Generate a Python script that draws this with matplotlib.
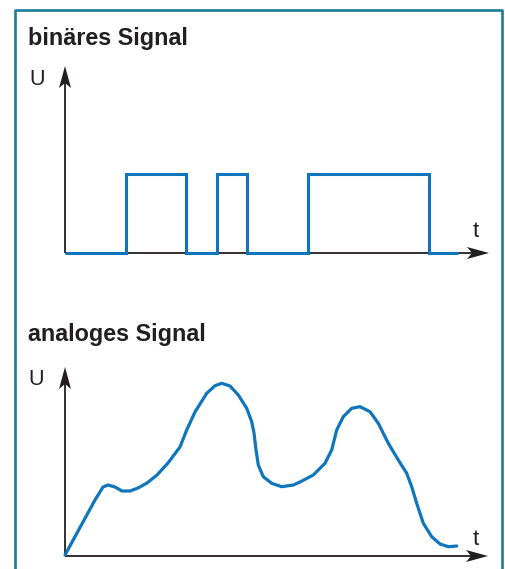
import matplotlib
matplotlib.use("Agg")
import matplotlib.pyplot as plt
from matplotlib.lines import Line2D
from matplotlib.patches import Polygon

plt.rcParams['font.family'] = ['Liberation Sans', 'DejaVu Sans']

W, H = 505, 569

# binary signal: switching times and levels (t, U in pixel-like units from the origin)
bin_t = [0, 61, 61, 121, 121, 152, 152, 182, 182, 243, 243, 364, 364, 393]
bin_u = [0, 0, 79, 79, 0, 0, 79, 79, 0, 0, 79, 79, 0, 0]

# analog signal
ana_t = [0, 30, 38, 43, 50, 57, 65, 73, 82, 92, 103, 115, 121.7, 130, 141.7, 150,
         156.7, 165, 173.3, 181.7, 186.7, 189, 191, 193.3, 198.3, 206.7, 216.7,
         228.3, 235, 248.3, 260, 266.7, 271.7, 278.3, 286.7, 295, 305, 313.3,
         323.3, 333.3, 341.7, 346.7, 351.7, 358.3, 366.7, 375, 383.3, 391.7]
ana_u = [1, 56, 69, 71, 69, 65, 65, 68, 73, 81, 93, 109, 126, 144, 162.7, 170.3,
         172.7, 170, 161, 147.7, 134.3, 123, 106, 91, 79.3, 72.7, 69.3,
         71, 74, 81, 92.7, 106, 126, 139.3, 147.7, 149.3, 144.3, 132.7,
         112.7, 96, 82.7, 69.3, 52.7, 32.7, 19.3, 12, 9.3, 10]

BLUE = '#0f75bc'
AXC = '#231f20'
FRAME = '#1b7d96'


def panel(fig, top_px, origin_y_px, t_tip, u_tip):
    # axes where one data unit is one pixel, origin at (65, origin_y_px)
    x0, x1 = 55, 500
    y_bot = origin_y_px + 10
    ax = fig.add_axes([x0 / W, 1 - y_bot / H, (x1 - x0) / W, (y_bot - top_px) / H])
    ax.set_xlim(x0 - 65, x1 - 65)
    ax.set_ylim(-10, y_bot - top_px - 10)
    ax.axis('off')
    # axes lines with notched arrow heads
    ax.plot([0, 0], [0, u_tip - 15], color=AXC, lw=1.3, solid_capstyle='butt')
    ax.plot([0, t_tip - 15], [0, 0], color=AXC, lw=1.3, solid_capstyle='butt')
    ax.add_patch(Polygon([(0, u_tip), (-6, u_tip - 22), (0, u_tip - 17), (6, u_tip - 22)],
                         closed=True, color=AXC, lw=0))
    ax.add_patch(Polygon([(t_tip, 0), (t_tip - 22, 6), (t_tip - 17, 0), (t_tip - 22, -6)],
                         closed=True, color=AXC, lw=0))
    return ax


fig = plt.figure(figsize=(W / 100, H / 100), dpi=100)

ax1 = panel(fig, 55, 253, 424, 187)
ax1.plot(bin_t, bin_u, color=BLUE, lw=2.2, solid_joinstyle='miter', solid_capstyle='butt')

ax2 = panel(fig, 358, 556, 423, 189)
ax2.plot(ana_t, ana_u, color=BLUE, lw=2.3, solid_joinstyle='round', solid_capstyle='round')

# frame, open at the bottom
fig.add_artist(Line2D([14.5 / W, 14.5 / W, 501.5 / W, 501.5 / W],
                      [0, 1 - 9.5 / H, 1 - 9.5 / H, 0],
                      transform=fig.transFigure, color=FRAME, lw=1.9))


def label(x, y, s, **kw):
    fig.text(x / W, 1 - y / H, s, va='baseline', ha='left', color=AXC, **kw)


label(28, 45, 'binäres Signal', fontsize=16.8, fontweight='bold')
label(29, 85, 'U', fontsize=15.5)
label(473, 237, 't', fontsize=16)

label(28, 341.5, 'analoges Signal', fontsize=16.8, fontweight='bold')
label(28.5, 385, 'U', fontsize=15.5)
label(473, 545, 't', fontsize=16)

fig.savefig('out.png', dpi=100)
